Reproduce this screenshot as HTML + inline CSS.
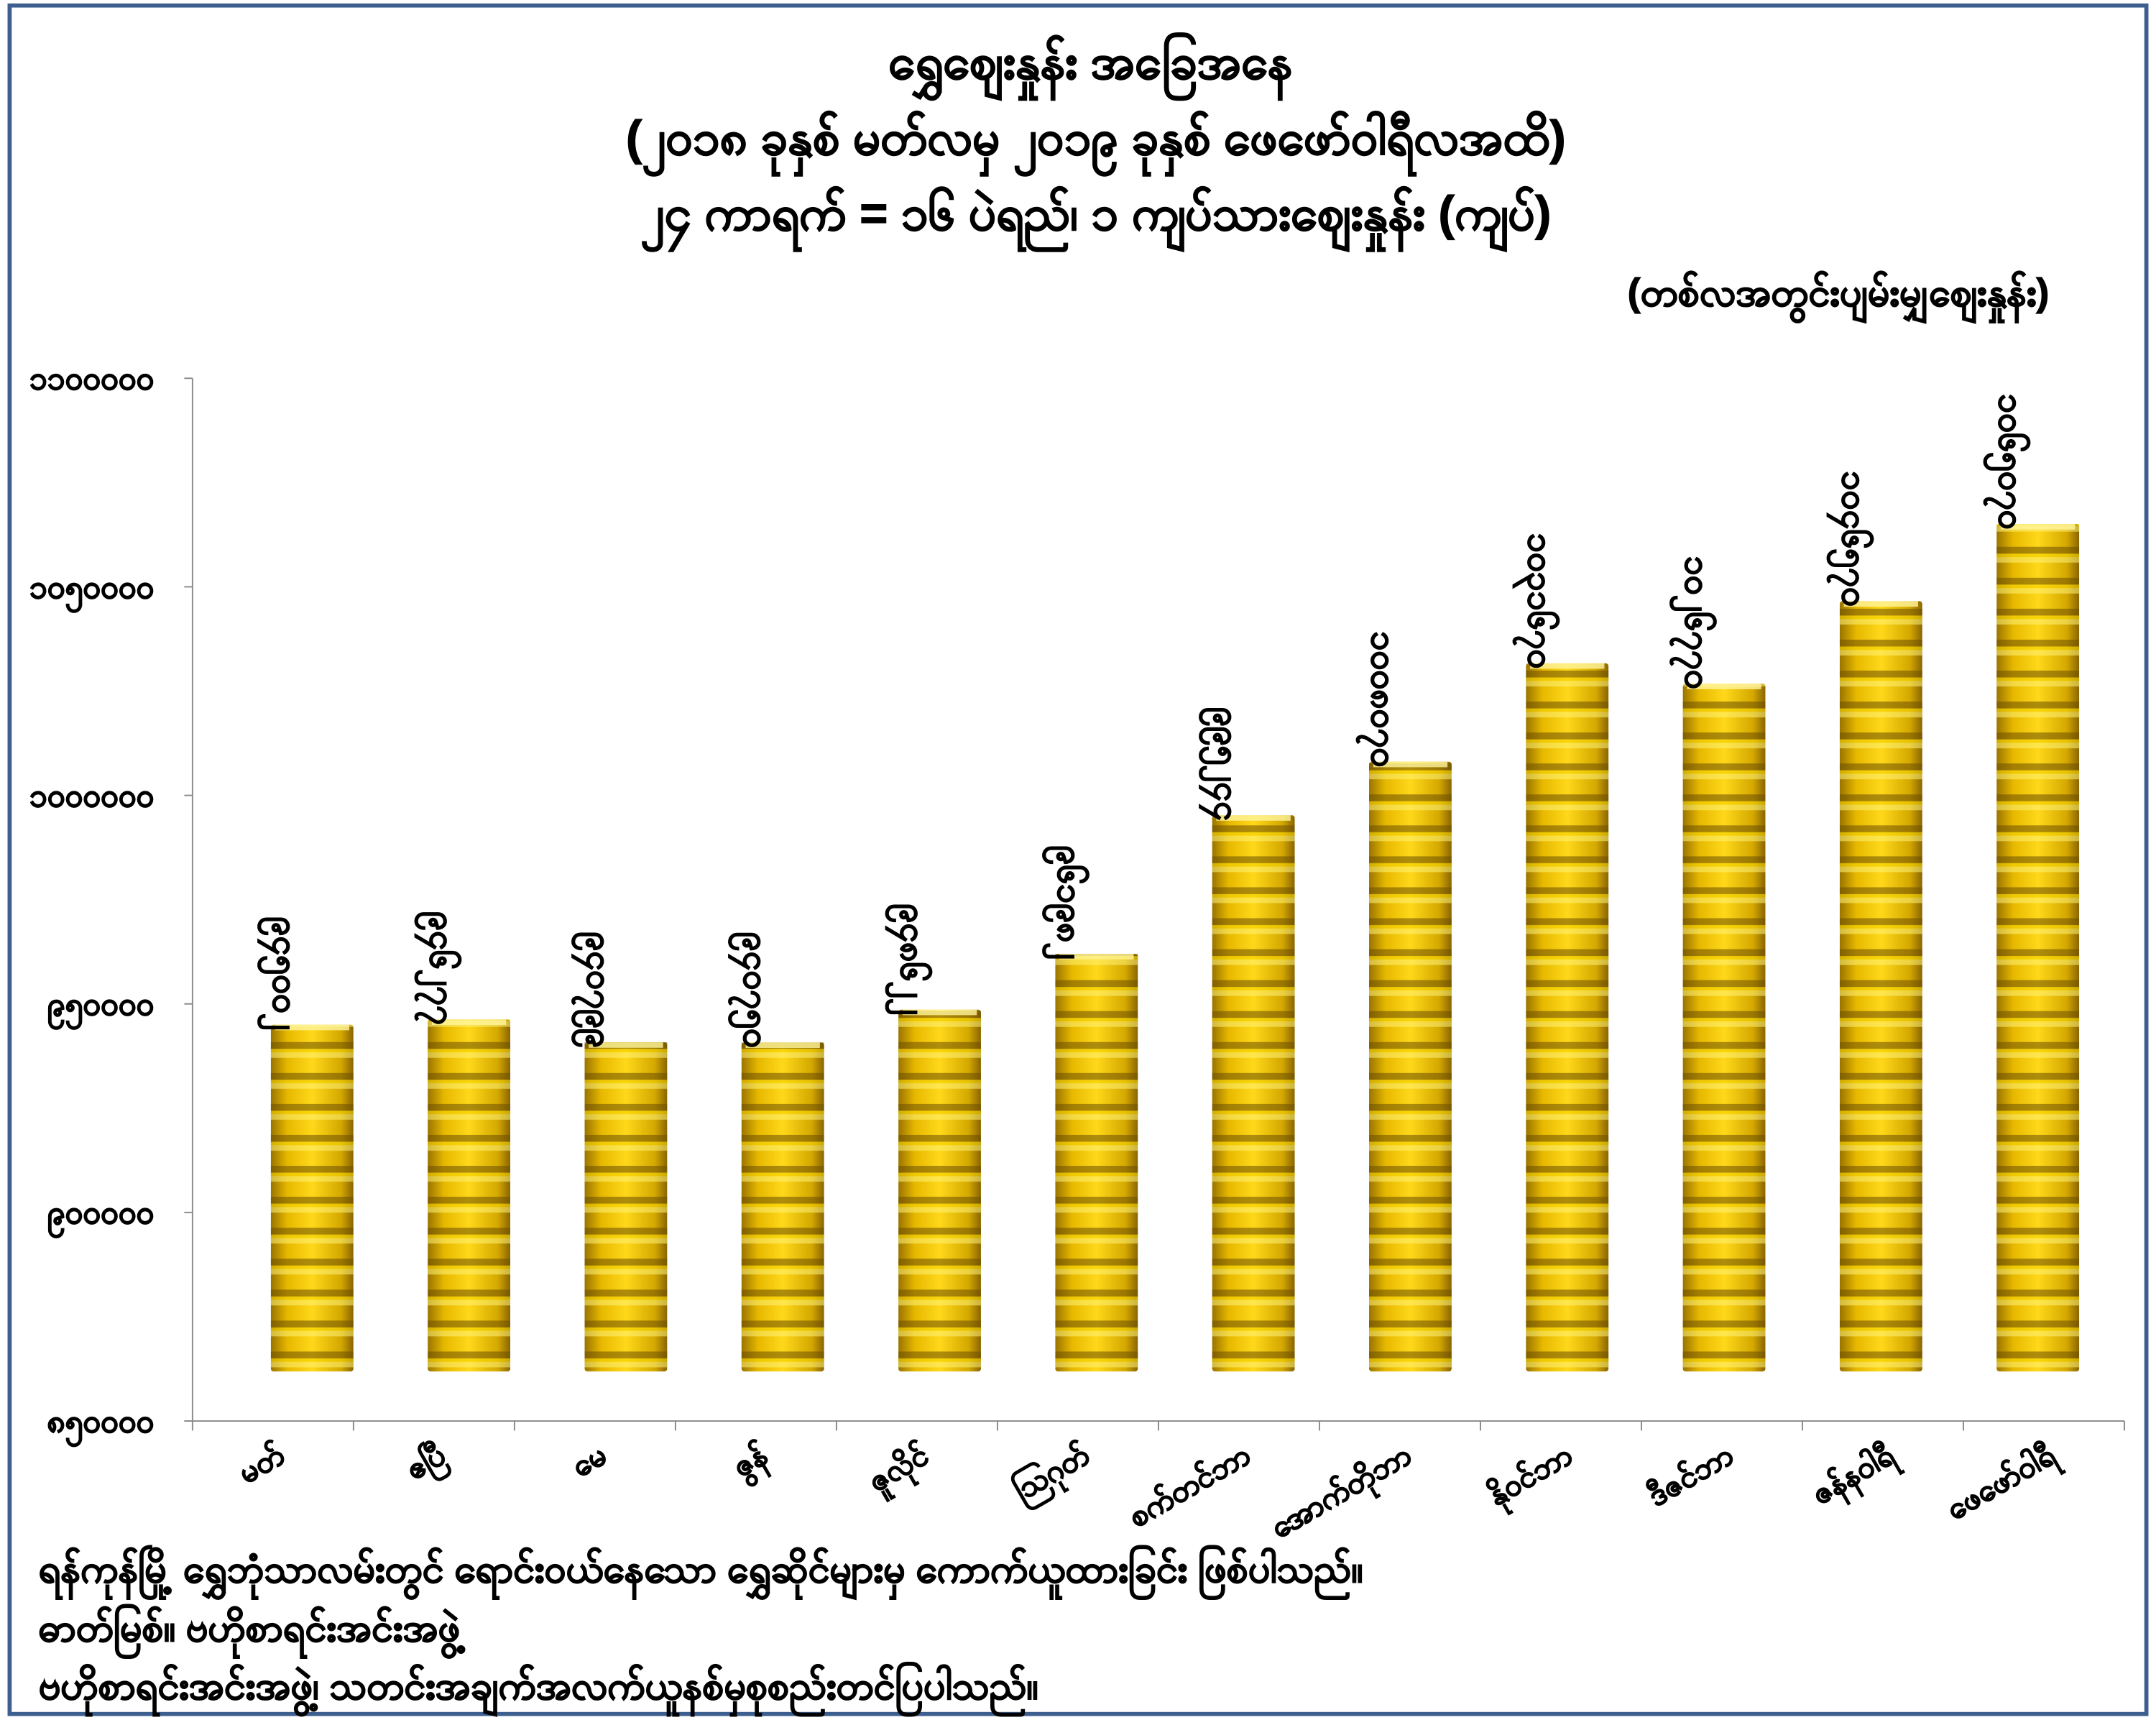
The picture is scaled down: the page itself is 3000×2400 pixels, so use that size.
<!DOCTYPE html>
<html><head><meta charset="utf-8"><style>
html,body{margin:0;padding:0;background:#fff;}
svg{display:block;}
text{font-family:"Liberation Sans","Noto Sans CJK SC",sans-serif;font-weight:bold;fill:#000;stroke:#000;stroke-width:0.7;}
</style></head><body>
<svg id="chart" width="3000" height="2400" viewBox="0 0 1568 1254" preserveAspectRatio="none" xmlns="http://www.w3.org/2000/svg">
<defs>
<linearGradient id="goldH" x1="0" x2="1" y1="0" y2="0">
<stop offset="0" stop-color="#9a7400"/><stop offset="0.2" stop-color="#e6b800"/><stop offset="0.5" stop-color="#ffd81a"/><stop offset="0.85" stop-color="#d4a800"/><stop offset="1" stop-color="#8a6500"/>
</linearGradient>
<pattern id="stripes" patternUnits="userSpaceOnUse" width="60" height="22.5">
<rect x="0" y="0" width="60" height="4" fill="#fff176" opacity="0.55"/>
<rect x="0" y="15" width="60" height="5" fill="#6b4e00" opacity="0.55"/>
<rect x="0" y="20" width="60" height="2.5" fill="#f5d400" opacity="0.6"/>
</pattern>
</defs>
<rect x="7" y="4" width="1554" height="1242" fill="#fff" stroke="#3d5f8f" stroke-width="3"/>
<text x="793" y="57" font-size="35" text-anchor="middle">ရွှေဈေးနှုန်း အခြေအနေ</text>
<text x="797" y="112" font-size="35" text-anchor="middle">(၂၀၁၈ ခုနှစ် မတ်လမှ ၂၀၁၉ ခုနှစ် ဖေဖော်ဝါရီလအထိ)</text>
<text x="797" y="167" font-size="35" text-anchor="middle">၂၄ ကာရက် = ၁၆ ပဲရည်၊ ၁ ကျပ်သားဈေးနှုန်း (ကျပ်)</text>
<text x="1337" y="222" font-size="28" text-anchor="middle">(တစ်လအတွင်းပျမ်းမျှဈေးနှုန်း)</text>
<g id="axes"></g>
<g id="bars"></g>
<g id="labels"></g>
<text x="28" y="1150" font-size="28">ရန်ကုန်မြို့ ရွှေဘုံသာလမ်းတွင် ရောင်းဝယ်နေသော ရွှေဆိုင်များမှ ကောက်ယူထားခြင်း ဖြစ်ပါသည်။</text>
<text x="28" y="1193" font-size="28">ဓာတ်မြစ်။ ဗဟိုစာရင်းအင်းအဖွဲ့</text>
<text x="28" y="1235" font-size="28">ဗဟိုစာရင်းအင်းအဖွဲ့၊ သတင်းအချက်အလက်ယူနစ်မှစုစည်းတင်ပြပါသည်။</text>
</svg>
<script>
const categories = ["မတ်","ဧပြီ","မေ","ဇွန်","ဇူလိုင်","ဩဂုတ်","စက်တင်ဘာ","အောက်တိုဘာ","နိုဝင်ဘာ","ဒီဇင်ဘာ","ဇန်နဝါရီ","ဖေဖော်ဝါရီ"];
const values = [945002, 946277, 940799, 940750, 948622, 961982, 995244, 1008070, 1031670, 1026770, 1046570, 1065070];
const yTicks = [850000, 900000, 950000, 1000000, 1050000, 1100000];

const NS = "http://www.w3.org/2000/svg";
const yMin = 850000, yMax = 1100000, yTop = 275, yBot = 1033;
const plotL = 140, plotR = 1545;
function yScale(v){ return yBot - (v - yMin) / (yMax - yMin) * (yBot - yTop); }
function barLeft(i){ return 197 + i * 114.1; }
function catEdge(k){ return plotL + k * (plotR - plotL) / categories.length; }
function toMy(n){ return String(n).replace(/[0-9]/g, d => String.fromCharCode(0x1040 + (+d))); }
function mk(tag, attrs, parent){ const e = document.createElementNS(NS, tag); for (const k in attrs) e.setAttribute(k, attrs[k]); parent.appendChild(e); return e; }

const axes = document.getElementById('axes');
const bars = document.getElementById('bars');
const labels = document.getElementById('labels');

yTicks.forEach(t => {
  const y = yScale(t);
  const tk = mk('line', {x1: plotL - 6, x2: plotL, y1: y, y2: y, stroke: '#888', 'stroke-width': 1}, axes);
  
  
  const tx = mk('text', {x: 112, y: y + 8, 'font-size': 23, 'text-anchor': 'end'}, axes);
  tx.textContent = toMy(t);
  
  
});
const ya = mk('line', {x1: plotL, x2: plotL, y1: yTop, y2: yBot, stroke: '#888', 'stroke-width': 1}, axes);


const xa = mk('line', {x1: plotL, x2: plotR, y1: yBot, y2: yBot, stroke: '#888', 'stroke-width': 1}, axes);


for (let k = 0; k <= categories.length; k++) {
  const x = catEdge(k);
  const t = mk('line', {x1: x, x2: x, y1: yBot, y2: yBot + 7, stroke: '#888', 'stroke-width': 1}, axes);
  
  
}

const stackBottom = 997;
categories.forEach((c, i) => {
  const top = yScale(values[i]);
  const x = barLeft(i);
  const g = mk('g', {}, bars);
  
  
  mk('rect', {x: x, y: top, width: 60, height: stackBottom - top, fill: 'url(#goldH)', rx: 2}, g);
  mk('rect', {x: x, y: top, width: 60, height: stackBottom - top, fill: 'url(#stripes)'}, g);
  mk('rect', {x: x + 3, y: top, width: 54, height: 4, fill: '#fff59d', opacity: 0.8}, g);

  const lx = x + 2, ly = top + 4;
  const vl = mk('text', {x: lx, y: ly, 'font-size': 25, 'text-anchor': 'end', transform: 'rotate(90 ' + lx + ' ' + ly + ')'}, labels);
  vl.textContent = toMy(values[i]);
  
  

  const cx = (catEdge(i) + catEdge(i + 1)) / 2 + 10, cy = 1062;
  const cl = mk('text', {x: cx, y: cy, 'font-size': 22, 'text-anchor': 'end', transform: 'rotate(-30 ' + cx + ' ' + cy + ')'}, labels);
  cl.textContent = c;
  
  
});
</script>
</body></html>
